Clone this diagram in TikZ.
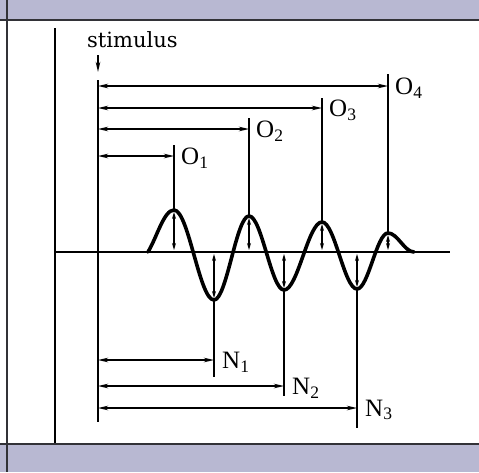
\documentclass[tikz,border=0pt]{standalone}
\usepackage{fontspec}
\setmainfont{Liberation Serif}
\newfontfamily\stimfont{DejaVu Serif}
\usepackage{tikz}
\usetikzlibrary{arrows.meta}
\definecolor{bandblue}{RGB}{184,184,210}
\definecolor{frameline}{RGB}{50,50,55}

\begin{document}
\begin{tikzpicture}[x=1pt,y=-1pt,>={Stealth[length=10pt,width=4.5pt]},
  every node/.style={font=\fontsize{25}{27}\selectfont,inner sep=0pt},
  thinline/.style={line width=1.7pt},
  wave/.style={line width=3.6pt,line join=round,line cap=round},
  amp/.style={line width=1.3pt,<->,>={Stealth[length=7pt,width=4pt]},shorten <=2pt,shorten >=2pt}]
\useasboundingbox (0,0) rectangle (479,472);
% frame
\fill[bandblue] (0,0) rectangle (479,20);
\fill[bandblue] (0,444) rectangle (479,472);
\draw[line width=1.5pt,frameline] (0,20) -- (479,20) (0,444) -- (479,444) (7,0) -- (7,472);
% axes
\coordinate (axtop) at (55,28);
\coordinate (axbot) at (55,443);
\coordinate (b0) at (55,252);
\coordinate (b1) at (450,252);
\draw[thinline] (axtop) -- (axbot);
% stimulus
\node[anchor=base west,font=\stimfont\fontsize{21}{23}\selectfont] (stim) at (87,47) {stimulus};
\coordinate (s0) at (98,55);
\coordinate (s1) at (98,72);
\draw[->,thinline] (s0) -- (s1);
\coordinate (st) at (98,80);
\coordinate (sb) at (98,422);
\draw[thinline] (st) -- (sb);
% peaks and troughs
\coordinate (p1) at (174,210);
\coordinate (p2) at (249,216);
\coordinate (p3) at (322,222);
\coordinate (p4) at (388,233);
\coordinate (n1) at (214,300);
\coordinate (n2) at (284,290);
\coordinate (n3) at (357,289);
% baseline and wave
\draw[line width=2.4pt] (b0) -- (b1);
\draw[wave] (148,252) .. controls (157,237) and (164,210) .. (p1)
  .. controls (188.6,210) and (199.4,300) .. (n1)
  .. controls (226.7,300) and (236.3,216) .. (p2)
  .. controls (261.7,216) and (271.3,290) .. (n2)
  .. controls (297.8,290) and (308.2,222) .. (p3)
  .. controls (334.7,222) and (344.3,289) .. (n3)
  .. controls (368.3,289) and (376.7,233) .. (p4)
  .. controls (397.5,233) and (404.5,252) .. (414,252);
% amplitudes
\foreach \m in {p1,p2,p3,p4,n1,n2,n3}
  \draw[amp] (\m |- b0) -- (\m);
% O latencies
\coordinate (o1) at (174,156);
\coordinate (o2) at (249,129);
\coordinate (o3) at (322,108);
\coordinate (o4) at (388,86);
\coordinate (o1t) at (174,145);
\coordinate (o2t) at (249,118);
\coordinate (o3t) at (322,98);
\coordinate (o4t) at (388,74);
\foreach \k in {1,2,3,4}{
  \draw[<->,thinline] (o\k -| st) -- (o\k);
  \draw[thinline] (o\k t) -- (p\k);
  \node[anchor=west] (o\k lab) at ([xshift=7pt,yshift=-2pt]o\k) {O\textsubscript{\k}};
}
% N latencies
\coordinate (m1) at (214,360);
\coordinate (m2) at (284,386);
\coordinate (m3) at (357,408);
\coordinate (m1b) at (214,377);
\coordinate (m2b) at (284,396);
\coordinate (m3b) at (357,428);
\foreach \k in {1,2,3}{
  \draw[<->,thinline] (m\k -| st) -- (m\k);
  \draw[thinline] (n\k) -- (m\k b);
  \node[anchor=west] (n\k lab) at ([xshift=8pt,yshift=-2pt]m\k) {N\textsubscript{\k}};
}
\end{tikzpicture}
\end{document}
